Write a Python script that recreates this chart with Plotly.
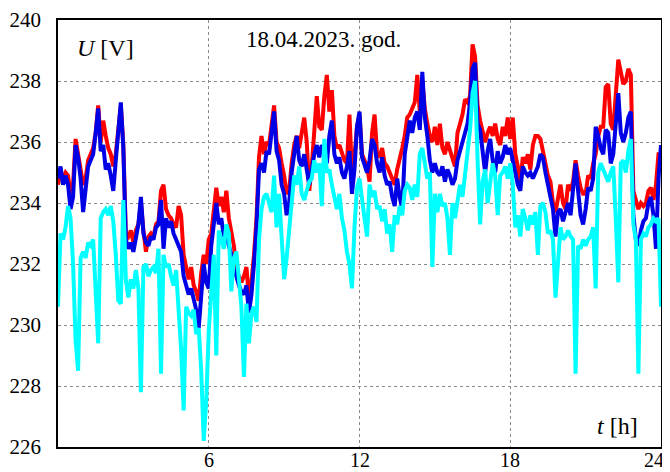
import numpy as np
import plotly.graph_objects as go

# time grid in hours (6-minute steps)
t_h = np.round(np.arange(0, 241) * 0.1, 1)

u_red = [
234.6, 235.0, 234.8, 235.0, 234.9, 234.3, 234.6, 236.1, 235.6, 235.0, 234.6, 234.8, 235.4, 235.6, 235.8, 236.3, 237.2, 236.0, 236.7, 236.2, 235.8, 235.6, 235.2, 235.6, 236.5, 237.2, 235.9, 233.0, 232.9, 233.1, 232.7,
233.1, 233.3, 234.0, 233.1, 232.4, 232.9, 233.0, 232.9, 233.3, 233.4, 234.4, 234.6, 233.8, 233.6, 233.5, 233.3, 233.2, 233.9, 233.6, 232.3, 231.8, 231.5, 231.9, 231.3, 231.1, 230.8, 231.7, 232.3, 232.0, 232.8,
233.0, 233.8, 234.5, 233.9, 234.2, 233.7, 234.4, 233.5, 233.0, 232.6, 231.8, 231.6, 231.4, 231.6, 231.9, 230.9, 231.4, 232.3, 233.5, 235.5, 236.2, 235.6, 236.0, 235.9, 236.6, 237.2, 236.0, 235.8, 235.3, 234.9,
234.3, 234.4, 235.3, 235.9, 236.2, 235.8, 236.3, 236.8, 236.0, 234.4, 235.2, 236.2, 237.5, 236.5, 236.4, 237.5, 238.2, 237.0, 237.7, 236.2, 235.8, 235.9, 235.6, 235.4, 235.3, 236.9, 235.0, 235.5, 236.5, 236.9,
235.6, 235.4, 235.2, 234.7, 236.3, 236.9, 235.6, 235.5, 235.8, 235.3, 235.2, 235.0, 234.8, 234.6, 235.1, 235.4, 235.8, 236.2, 236.8, 236.9, 237.1, 237.3, 238.2, 237.0, 238.0, 237.1, 236.6, 236.2, 236.0, 236.5,
235.9, 236.6, 235.8, 235.6, 236.0, 235.7, 235.4, 235.2, 236.3, 236.6, 236.9, 237.4, 237.3, 237.5, 239.2, 238.8, 237.2, 236.7, 236.4, 236.0, 236.3, 236.5, 236.2, 236.6, 236.1, 235.9, 236.5, 236.2, 236.8, 236.1,
236.8, 235.6, 235.2, 234.7, 235.5, 235.3, 235.6, 235.1, 235.9, 236.2, 236.2, 236.1, 235.7, 235.3, 234.9, 234.7, 234.0, 233.7, 234.2, 234.6, 234.0, 233.8, 234.6, 234.4, 234.7, 235.4, 234.9, 234.5, 234.3, 234.3,
234.9, 234.8, 235.3, 235.6, 236.2, 236.5, 236.5, 237.8, 237.9, 236.6, 236.4, 237.8, 238.7, 238.3, 237.9, 238.0, 238.4, 238.2, 234.4, 234.1, 233.8, 234.0, 233.9, 234.0, 234.4, 234.5, 234.1, 234.6, 235.6, 235.6,
]

u_blue = [
234.8, 235.2, 234.6, 234.9, 234.6, 233.8, 234.2, 235.9, 235.5, 234.8, 233.7, 234.4, 235.2, 235.4, 235.6, 236.3, 237.1, 235.7, 235.9, 235.1, 235.3, 234.9, 234.4, 235.4, 236.5, 237.3, 235.8, 232.8, 232.5, 232.7, 232.4,
232.8, 233.3, 234.2, 233.0, 232.7, 232.6, 232.9, 232.8, 233.2, 233.3, 234.1, 232.5, 233.5, 233.2, 233.4, 233.0, 232.8, 232.6, 232.4, 231.6, 231.3, 231.0, 231.2, 230.8, 230.5, 229.9, 231.0, 232.0, 231.4, 231.2,
232.6, 233.4, 234.0, 233.3, 233.5, 232.9, 233.0, 232.6, 232.3, 231.8, 231.6, 231.3, 231.1, 231.0, 231.3, 230.4, 231.0, 232.0, 233.2, 235.1, 235.3, 235.0, 235.7, 235.6, 236.3, 237.0, 235.7, 235.4, 234.6, 234.3,
233.6, 234.0, 235.0, 235.6, 236.2, 235.4, 235.2, 235.6, 235.0, 234.6, 235.1, 235.6, 235.9, 235.5, 235.9, 235.7, 235.3, 236.2, 236.7, 235.6, 235.3, 235.5, 235.0, 234.8, 235.2, 235.7, 234.3, 235.1, 236.5, 237.0,
235.5, 235.2, 235.0, 235.4, 236.1, 235.9, 235.3, 235.0, 235.5, 234.9, 234.6, 234.7, 234.2, 233.9, 234.8, 234.2, 233.8, 235.6, 236.2, 236.7, 236.3, 236.8, 237.0, 236.4, 238.3, 236.8, 236.2, 235.4, 235.0, 235.3,
235.0, 234.9, 235.2, 234.7, 235.1, 234.9, 234.6, 234.8, 235.4, 235.7, 236.0, 236.2, 236.6, 237.3, 238.4, 238.6, 236.6, 236.4, 235.6, 235.0, 235.7, 236.1, 235.4, 235.0, 235.7, 235.3, 235.5, 235.9, 235.6, 235.8,
235.4, 235.0, 234.6, 234.4, 235.2, 235.0, 234.9, 235.0, 234.8, 235.0, 235.2, 235.6, 235.5, 235.0, 234.6, 234.1, 233.8, 232.9, 233.7, 233.8, 233.4, 233.7, 234.0, 233.6, 234.5, 235.3, 234.4, 233.6, 233.3, 233.8,
234.5, 234.4, 234.8, 236.5, 236.2, 235.8, 235.6, 236.4, 236.3, 235.3, 235.6, 236.6, 237.6, 236.3, 236.0, 236.3, 236.8, 237.0, 233.6, 232.8, 232.6, 233.1, 233.4, 233.5, 234.0, 234.2, 233.6, 232.5, 234.8, 235.9,
]

u_cyan = [
230.6, 233.0, 232.8, 233.2, 233.9, 233.5, 232.0, 229.5, 228.5, 232.2, 232.4, 232.2, 232.7, 232.6, 232.8, 231.0, 229.4, 233.5, 233.7, 233.8, 233.6, 233.9, 233.4, 232.3, 230.8, 230.7, 234.1, 231.5, 230.9, 231.5, 231.2,
231.8, 231.2, 227.8, 231.9, 232.0, 231.6, 231.8, 231.9, 231.7, 232.5, 228.4, 232.3, 231.9, 232.0, 231.6, 231.3, 231.8, 230.6, 229.2, 227.2, 230.6, 230.4, 230.3, 230.5, 229.7, 229.9, 228.5, 226.2, 227.5, 229.8,
231.0, 232.3, 229.0, 233.1, 232.8, 232.5, 233.3, 233.0, 231.1, 232.2, 232.4, 231.4, 230.6, 228.3, 230.7, 229.4, 230.4, 230.6, 230.1, 232.8, 233.8, 234.2, 234.3, 234.0, 233.7, 234.9, 233.2, 234.3, 233.0, 231.5,
232.2, 233.0, 234.1, 234.9, 234.6, 235.2, 234.3, 234.1, 234.4, 234.7, 234.8, 235.4, 235.0, 235.3, 233.9, 236.1, 235.0, 235.1, 234.6, 234.1, 233.8, 234.3, 233.5, 233.1, 232.4, 232.0, 231.2, 233.2, 234.5, 234.8,
234.0, 233.5, 232.9, 234.6, 234.2, 234.4, 233.8, 233.9, 233.4, 233.8, 233.0, 233.3, 232.4, 233.6, 233.3, 233.9, 233.6, 234.4, 234.6, 234.5, 234.1, 234.6, 234.2, 235.6, 235.8, 235.2, 234.8, 235.0, 231.9, 234.3,
233.7, 234.3, 233.9, 234.0, 233.5, 232.3, 234.0, 233.5, 234.1, 234.6, 234.2, 235.0, 235.6, 236.4, 237.6, 238.0, 235.4, 233.3, 234.7, 235.1, 234.0, 234.8, 235.3, 234.9, 233.6, 234.9, 235.0, 235.2, 234.8, 235.3,
234.6, 233.2, 233.6, 232.9, 233.8, 233.5, 233.1, 233.6, 233.3, 233.7, 232.3, 233.9, 234.0, 233.7, 233.0, 233.1, 232.8, 230.9, 232.3, 233.2, 232.8, 232.9, 233.1, 232.9, 232.8, 228.4, 232.6, 232.5, 232.8, 232.6,
232.8, 232.9, 233.2, 231.2, 235.0, 235.3, 235.1, 234.9, 234.7, 235.0, 235.2, 233.5, 231.4, 235.3, 235.4, 235.0, 235.7, 236.1, 233.3, 232.8, 228.4, 232.8, 233.0, 232.9, 233.2, 233.3, 233.5, 233.4, 233.5, 230.6,
]

x_ticks = [6, 12, 18, 24]
y_ticks = [226, 228, 230, 232, 234, 236, 238, 240]
title_text = "18.04.2023. god."

FONT = "Liberation Serif"

fig = go.Figure()
for vals, col in [(u_red, "#ff0000"), (u_blue, "#0000e6"), (u_cyan, "#00ffff")]:
    fig.add_trace(go.Scatter(x=t_h, y=vals, mode="lines",
                             line=dict(color=col, width=4), showlegend=False,
                             hoverinfo="skip"))

axis_common = dict(showline=True, mirror=True, linecolor="black", linewidth=1.5,
                   showgrid=True, gridcolor="#8a8a8a", gridwidth=1, griddash="dot",
                   zeroline=False, ticks="", automargin=False,
                   tickfont=dict(family=FONT, size=21, color="black"))

# x tick labels drawn as text at the axis positions (the last one is kept inside the page)
x_label_annots = []
for v in x_ticks:
    x_label_annots.append(dict(
        text=str(v), xref="x", yref="paper", x=v, y=0, yanchor="top",
        xanchor="center", xshift=(-7 if v == x_ticks[-1] else 0), yshift=0,
        showarrow=False, font=dict(family=FONT, size=20, color="black")))

# the page has an 8px body margin, so the figure is sized to fit the window
fig.update_layout(
    width=662, height=464,
    margin=dict(l=50, r=9, t=12, b=25),
    font=dict(family=FONT, color="black"),
    paper_bgcolor="white", plot_bgcolor="white",
    xaxis=dict(range=[0, 24], tickvals=x_ticks, showticklabels=False, **axis_common),
    yaxis=dict(range=[226, 240], tickvals=y_ticks, ticktext=[str(v) for v in y_ticks],
               ticklabelstandoff=11, **axis_common),
    annotations=x_label_annots + [
        dict(text="<i>U</i> [V]", xref="paper", yref="paper", x=0.028, y=0.935,
             xanchor="left", yanchor="middle", showarrow=False,
             font=dict(family=FONT, size=24, color="black")),
        dict(text=title_text, xref="paper", yref="paper", x=0.44, y=0.955,
             xanchor="center", yanchor="middle", showarrow=False,
             font=dict(family=FONT, size=23, color="black")),
        dict(text="<i>t</i> [h]", xref="paper", yref="paper", x=0.965, y=0.05,
             xanchor="right", yanchor="middle", showarrow=False,
             font=dict(family=FONT, size=24, color="black")),
    ],
)

fig.write_html("out.html")
